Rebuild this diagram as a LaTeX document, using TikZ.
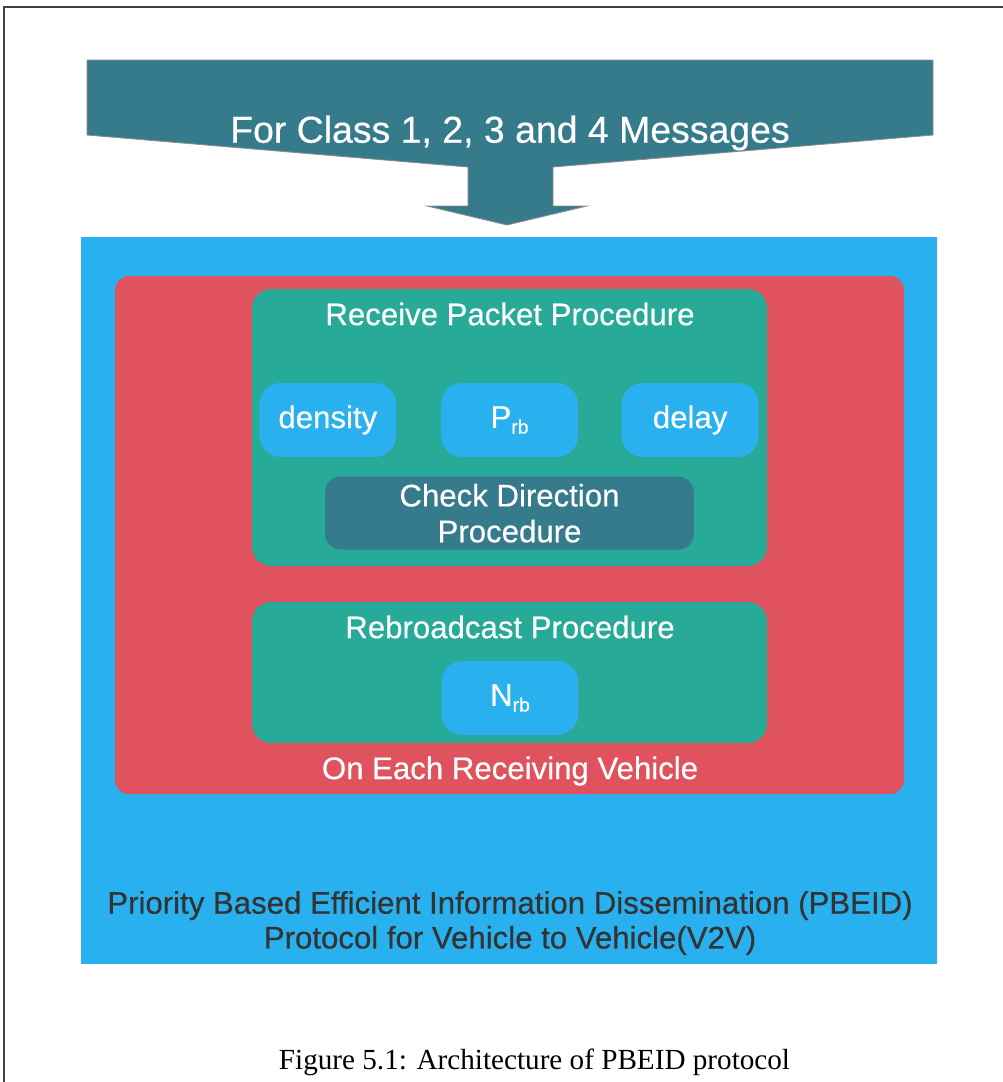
\documentclass[tikz,border=0pt]{standalone}
\usepackage{fontspec}
\setmainfont{Liberation Serif}
\setsansfont{Liberation Sans}[FakeBold=0.4]
\usetikzlibrary{positioning, fit, shadows}
\definecolor{arrowteal}{HTML}{367B8B}
\definecolor{outerblue}{HTML}{29B1EF}
\definecolor{vehiclered}{HTML}{E0525E}
\definecolor{procgreen}{HTML}{27AA98}
\definecolor{darktext}{HTML}{333333}
\newcommand{\lowidx}[1]{\raisebox{-0.35ex}{\fontsize{11pt}{11pt}\selectfont #1}}
\tikzset{
  pageframe/.style = {line width=1.1pt, draw=black!75},
  bigarrow/.style  = {fill=arrowteal, draw=black!45, line width=0.5pt},
  outerbox/.style  = {fill=outerblue, inner sep=0pt},
  vehiclebox/.style= {fill=vehiclered, rounded corners=8pt, inner sep=0pt},
  procbox/.style   = {fill=procgreen, rounded corners=11pt, inner sep=0pt},
  pill/.style      = {fill=outerblue, rounded corners=12pt, minimum width=2.74cm,
                      minimum height=1.48cm, text=white, inner sep=0pt,
                      font=\sffamily\fontsize{17.75pt}{20pt}\selectfont,
                      drop shadow={shadow xshift=0.7pt, shadow yshift=-0.7pt, opacity=0.2}},
  dirbox/.style    = {fill=arrowteal, rounded corners=9pt, minimum width=7.38cm,
                      minimum height=1.46cm, text=white, align=center, inner sep=0pt,
                      font=\sffamily\fontsize{17.75pt}{20.4pt}\selectfont},
  whitetext/.style = {text=white, font=\sffamily\fontsize{17.75pt}{20pt}\selectfont},
  darklabel/.style = {text=darktext, align=center,
                      font=\sffamily\fontsize{17.75pt}{19.8pt}\selectfont},
}

\begin{document}
\begin{tikzpicture}[x=0.02cm, y=-0.02cm]
    \useasboundingbox (0,0) rectangle (1003,1082);
    \draw[pageframe] (4,1082) -- (4,7) -- (1003,7);

    % incoming messages
    \draw[bigarrow] (87,60) -- (933,60) -- (933,135) -- (553,167) -- (553,206)
      -- (587,206) -- (507,225) -- (427,206) -- (468,206) -- (468,167)
      -- (87,135) -- cycle;
    \node[text=white, font=\sffamily\fontsize{21.3pt}{24pt}\selectfont] (msgs)
      at (510,133) {For Class 1, 2, 3 and 4 Messages};

    \node[outerbox, fit={(81,237) (937,964)}] (pbeid) {};
    \node[vehiclebox, fit={(115,276) (904,794)}] (vehicle) {};
    \node[procbox, fit={(252,289) (767,566)}] (receive) {};
    \node[procbox, fit={(252,602) (767,743)}] (rebroad) {};

    \node[whitetext] (recvtitle) at (510,314) {Receive Packet Procedure};
    \node[pill] (prb) at (509.5,420) {P\lowidx{rb}};
    \node[pill, left=0.88cm of prb] (density) {density};
    \node[pill, right=0.86cm of prb] (delay) {delay};
    \node[dirbox, below=0.38cm of prb] (checkdir) {Check Direction\\Procedure};

    \node[whitetext] (rebtitle) at (510,627) {Rebroadcast Procedure};
    \node[pill] (nrb) at (510,698) {N\lowidx{rb}};
    \node[whitetext] (vehtitle) at (510,771) {On Each Receiving Vehicle};

    \node[darklabel] (protocol) at (510,923)
      {Priority Based Efficient Information Dissemination (PBEID)\\Protocol for Vehicle to Vehicle(V2V)};

    \node[font=\fontsize{16.6pt}{19pt}\selectfont] (caption) at (534.5,1062)
      {Figure 5.1: Architecture of PBEID protocol};
  \end{tikzpicture}
\end{document}
